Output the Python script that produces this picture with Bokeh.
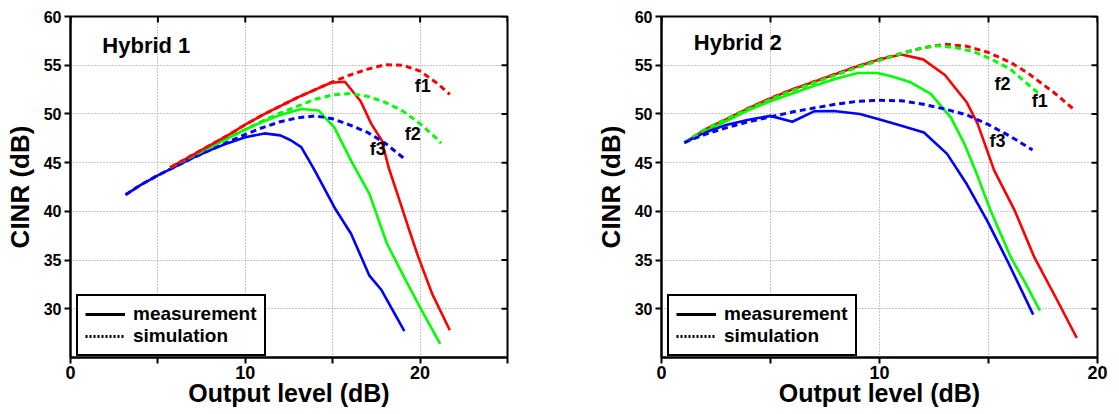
import math
from bokeh.plotting import figure
from bokeh.models import FixedTicker, Range1d, Legend, LegendItem, ColumnDataSource
from bokeh.layouts import row
from bokeh.embed import file_html
from bokeh.resources import INLINE
from bokeh.core.properties import value

FONT = "Liberation Sans"
RED, GREEN, BLUE = "#ff0000", "#00ff00", "#0000ff"
BLACK = "#000000"

# ---------------- data: Hybrid 1 ----------------
h1_meas_f1_x = [5.7, 7, 8, 9, 10, 11, 12, 13, 14, 14.9, 15.7, 16.6, 17.2, 17.8, 18.2, 18.7, 19.3, 19.9, 20.7, 21.7]
h1_meas_f1_y = [44.5, 45.8, 46.8, 47.8, 48.9, 49.9, 50.8, 51.7, 52.5, 53.2, 53.3, 51.3, 49.0, 47.3, 44.5, 41.8, 38.5, 35.3, 31.5, 27.8]
h1_sim_f1_x = [5.7, 7, 8, 9, 10, 11, 12, 13, 14, 15, 16, 17, 18, 19, 20, 21, 21.7]
h1_sim_f1_y = [44.5, 45.8, 46.8, 47.8, 48.9, 49.9, 50.8, 51.7, 52.5, 53.3, 54.0, 54.6, 55.05, 55.0, 54.4, 53.1, 52.0]

h1_meas_f2_x = [5.7, 7, 8, 9, 10, 11, 12, 13.2, 14.2, 15.1, 16.05, 17.1, 18.1, 19.1, 20.1, 21.15]
h1_meas_f2_y = [44.5, 45.7, 46.6, 47.5, 48.4, 49.2, 49.9, 50.5, 50.35, 48.6, 45.2, 41.8, 36.7, 33.2, 29.8, 26.4]
h1_sim_f2_x = [5.7, 7, 8, 9, 10, 11, 12, 13, 14, 15, 16, 17, 18, 19, 20, 21, 21.2]
h1_sim_f2_y = [44.5, 45.7, 46.6, 47.5, 48.4, 49.3, 50.1, 50.8, 51.5, 51.95, 52.1, 51.8, 51.2, 50.3, 49.0, 47.4, 47.0]

h1_meas_f3_x = [3.15, 4, 5, 6, 7, 8, 9, 10, 11.1, 12, 12.6, 13.2, 13.75, 14.0, 15.1, 16.05, 17.1, 17.8, 19.1]
h1_meas_f3_y = [41.7, 42.7, 43.7, 44.6, 45.5, 46.3, 47.0, 47.6, 48.0, 47.8, 47.3, 46.6, 44.9, 44.1, 40.4, 37.7, 33.4, 31.9, 27.7]
h1_sim_f3_x = [3.15, 4, 5, 6, 7, 8, 9, 10, 11, 12, 13, 14, 15, 16, 17, 18, 19.1]
h1_sim_f3_y = [41.7, 42.7, 43.7, 44.6, 45.5, 46.3, 47.1, 47.9, 48.6, 49.2, 49.6, 49.8, 49.5, 48.85, 48.1, 47.0, 45.4]

# ---------------- data: Hybrid 2 ----------------
h2_meas_f1_x = [1.05, 2, 3, 4, 5, 6, 7, 8, 9, 10, 11, 12, 13, 14, 14.5, 15.26, 16.2, 17.1, 18.17, 19.05]
h2_meas_f1_y = [47.05, 48.4, 49.5, 50.6, 51.6, 52.5, 53.3, 54.1, 54.9, 55.6, 56.1, 55.6, 54.0, 51.2, 49.0, 44.2, 40.1, 35.3, 30.8, 27.0]
h2_sim_f1_x = [1.05, 2, 3, 4, 5, 6, 7, 8, 9, 10, 11, 12, 13, 14, 15, 16, 16.8, 18, 18.9]
h2_sim_f1_y = [47.05, 48.4, 49.5, 50.6, 51.6, 52.5, 53.3, 54.1, 54.9, 55.6, 56.2, 56.8, 57.15, 56.95, 56.3, 55.3, 54.2, 52.2, 50.5]

h2_meas_f2_x = [1.05, 2, 3, 4, 5, 6, 7, 8, 9, 9.9, 10.5, 11.43, 12.35, 13.27, 13.9, 14.4, 15.1, 16.02, 16.7, 17.36]
h2_meas_f2_y = [47.05, 48.2, 49.3, 50.4, 51.3, 52.1, 52.9, 53.6, 54.2, 54.2, 53.9, 53.25, 52.06, 49.65, 46.9, 44.2, 40.06, 35.3, 32.6, 29.8]
h2_sim_f2_x = [1.05, 2, 3, 4, 5, 6, 7, 8, 9, 10, 11, 12, 12.7, 13.5, 14.3, 15.1, 16, 17.3]
h2_sim_f2_y = [47.05, 48.4, 49.5, 50.5, 51.5, 52.4, 53.2, 54.0, 54.8, 55.5, 56.2, 56.8, 57.0, 56.8, 56.4, 55.65, 54.6, 52.1]

h2_meas_f3_x = [1.05, 2, 3, 4, 5, 6, 7, 7.9, 9.1, 10.05, 10.97, 12.04, 13.1, 14.0, 14.95, 15.87, 17.05]
h2_meas_f3_y = [47.05, 48.1, 48.9, 49.4, 49.8, 49.2, 50.27, 50.3, 50.0, 49.4, 48.8, 48.1, 45.9, 42.8, 39.0, 34.9, 29.4]
h2_sim_f3_x = [1.05, 2, 3, 4, 5, 6, 7, 8, 9, 10, 11, 12, 13, 14, 15, 16, 17.02]
h2_sim_f3_y = [47.05, 47.9, 48.6, 49.2, 49.7, 50.2, 50.6, 51.0, 51.3, 51.4, 51.35, 51.0, 50.5, 49.9, 48.9, 47.7, 46.3]

curve_tags = ["f1", "f2", "f3"]
legend_labels = ["measurement", "simulation"]
titles = ["Hybrid 1", "Hybrid 2"]
x_title = "Output level (dB)"
y_title = "CINR (dB)"
y_ticks = [30, 35, 40, 45, 50, 55, 60]
x_ticks_1 = [0, 5, 10, 15, 20, 25]
x_ticks_2 = [0, 5, 10, 15, 20]
x_tick_labels = {0: "0", 10: "10", 20: "20"}

FIG_H = 414
Y_MIN, Y_MAX = 25, 60


def make_panel(width, b_left, b_right, xmax, xticks, meas, sims, tag_pos, title, title_pos):
    p = figure(width=width, height=FIG_H, x_range=Range1d(0, xmax), y_range=Range1d(Y_MIN, Y_MAX),
               output_backend="svg", toolbar_location=None,
               min_border_left=b_left, min_border_right=b_right,
               min_border_top=16, min_border_bottom=57)
    p.background_fill_color = "white"
    p.border_fill_color = "white"
    p.outline_line_color = BLACK
    p.outline_line_width = 2
    p.outline_line_alpha = 1

    overrides = {t: x_tick_labels.get(t, "") for t in xticks}
    xa = p.xaxis[0]
    xa.ticker = FixedTicker(ticks=xticks)
    xa.major_label_overrides = overrides
    xa.major_label_text_font = FONT
    xa.major_label_text_font_style = "bold"
    xa.major_label_text_font_size = "18px"
    xa.major_label_text_color = BLACK
    xa.major_label_standoff = 2
    xa.axis_label = x_title
    xa.axis_label_text_font = FONT
    xa.axis_label_text_font_style = "bold"
    xa.axis_label_text_font_size = "25px"
    xa.axis_label_text_color = BLACK
    xa.axis_label_standoff = -3

    ya = p.yaxis[0]
    ya.ticker = FixedTicker(ticks=y_ticks)
    ya.major_label_text_font = FONT
    ya.major_label_text_font_style = "bold"
    ya.major_label_text_font_size = "16px"
    ya.major_label_text_color = BLACK
    ya.major_label_standoff = 3
    ya.axis_label = y_title
    ya.axis_label_text_font = FONT
    ya.axis_label_text_font_style = "bold"
    ya.axis_label_text_font_size = "26px"
    ya.axis_label_text_color = BLACK
    ya.axis_label_standoff = 6

    for ax in (xa, ya):
        ax.axis_line_width = 2
        ax.axis_line_color = BLACK
        ax.major_tick_in = 0
        ax.major_tick_out = 6
        ax.major_tick_line_width = 2
        ax.major_tick_line_color = BLACK
        ax.minor_tick_line_color = None

    for g in (p.xgrid[0], p.ygrid[0]):
        g.grid_line_color = "#8c8c8c"
        g.grid_line_dash = "1 2"
        g.grid_line_width = 1

    # mirrored inward ticks on top and right edges
    p.ray(x=xticks, y=[Y_MAX] * len(xticks), length=6, length_units="screen",
          angle=-math.pi / 2, line_color=BLACK, line_width=2)
    p.ray(x=[xmax] * len(y_ticks), y=y_ticks, length=6, length_units="screen",
          angle=math.pi, line_color=BLACK, line_width=2)

    for (x, y, c) in meas:
        p.line(x, y, line_color=c, line_width=2.6)
    for (x, y, c) in sims:
        p.line(x, y, line_color=c, line_width=3, line_dash="6 4")

    p.text(x=[tp[0] for tp in tag_pos], y=[tp[1] for tp in tag_pos], text=curve_tags,
           text_font=value(FONT), text_font_style="bold", text_font_size="18px",
           text_align="center", text_baseline="middle", text_color=BLACK)

    p.text(x=[title_pos[0]], y=[title_pos[1]], text=[title],
           text_font=value(FONT), text_font_style="bold", text_font_size="22px",
           text_align="left", text_baseline="middle", text_color=BLACK)

    # legend key lines (kept outside the visible range)
    src = ColumnDataSource(data=dict(x=[-100, -99], y=[0, 0]))
    r_solid = p.line("x", "y", source=src, line_color=BLACK, line_width=3)
    r_dot = p.line("x", "y", source=src, line_color=BLACK, line_width=3, line_dash="2 2")
    leg = Legend(items=[LegendItem(label=legend_labels[0], renderers=[r_solid]),
                        LegendItem(label=legend_labels[1], renderers=[r_dot])],
                 location=(6, 1), margin=0, padding=7, spacing=0,
                 glyph_width=40, glyph_height=18, label_height=18, label_standoff=8,
                 label_text_font=FONT, label_text_font_style="bold", label_text_font_size="19px",
                 label_text_color=BLACK,
                 border_line_color=BLACK, border_line_width=2, border_line_alpha=1,
                 background_fill_color="white", background_fill_alpha=1)
    p.add_layout(leg)
    return p


p1 = make_panel(560, 70, 53, 25, x_ticks_1,
                [(h1_meas_f3_x, h1_meas_f3_y, BLUE), (h1_meas_f2_x, h1_meas_f2_y, GREEN), (h1_meas_f1_x, h1_meas_f1_y, RED)],
                [(h1_sim_f3_x, h1_sim_f3_y, BLUE), (h1_sim_f2_x, h1_sim_f2_y, GREEN), (h1_sim_f1_x, h1_sim_f1_y, RED)],
                [(20.15, 52.9), (19.58, 47.96), (17.58, 46.4)], titles[0], (1.82, 57.0))

p2 = make_panel(559, 101, 22, 20, x_ticks_2,
                [(h2_meas_f1_x, h2_meas_f1_y, RED), (h2_meas_f2_x, h2_meas_f2_y, GREEN), (h2_meas_f3_x, h2_meas_f3_y, BLUE)],
                [(h2_sim_f1_x, h2_sim_f1_y, RED), (h2_sim_f2_x, h2_sim_f2_y, GREEN), (h2_sim_f3_x, h2_sim_f3_y, BLUE)],
                [(17.35, 51.37), (15.64, 53.08), (15.41, 47.26)], titles[1], (1.48, 57.36))

layout = row(p1, p2)
open("out.html", "w").write(file_html(layout, INLINE))
